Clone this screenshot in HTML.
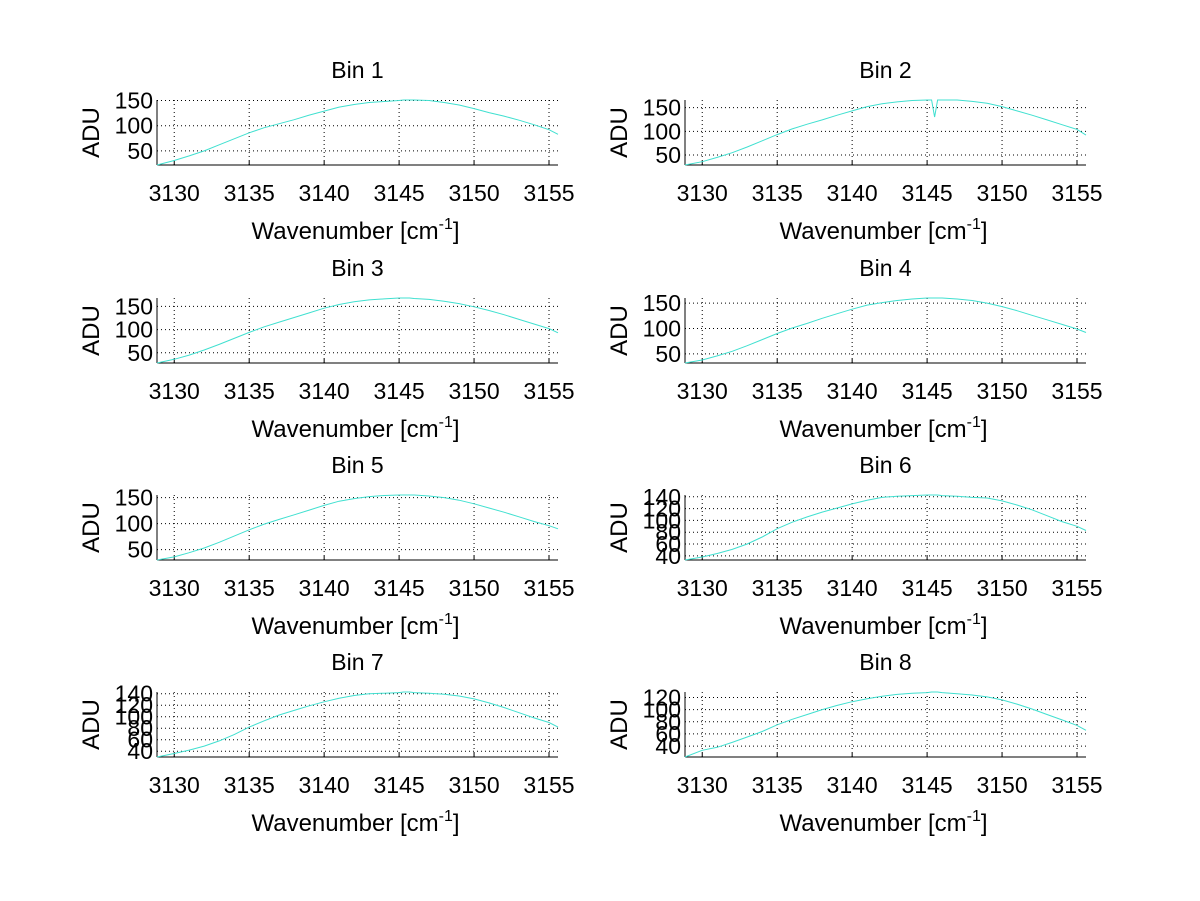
<!DOCTYPE html>
<html><head><meta charset="utf-8"><style>
html,body{margin:0;padding:0;background:#fff}
svg{display:block}
text{font-family:"Liberation Sans",Arial,sans-serif;fill:#000}
</style></head><body>
<svg id="fig" width="1200" height="901" viewBox="0 0 1200 901" xmlns="http://www.w3.org/2000/svg">
<rect width="1200" height="901" fill="#fff"/>
</svg>
<script>
const wavenumbers = [3128.85,3130,3131,3132,3133,3134,3135,3136,3137,3138,3139,3140,3141,3142,3143,3144,3145,3145.3,3145.5,3145.7,3146,3147,3148,3149,3150,3151,3152,3153,3154,3155,3155.6];
const bin1 = [22,31,40,50,62,74,86,96,104,112,121,129,137,142,146,148,150,151,151,151,151,150,146,141,134,126,119,111,102,92,83];
const bin2 = [29,36,45,55,67,80,93,105,115,124,134,143,152,158,162,165,166,166,130,166,166,166,163,159,152,143,134,124,114,104,92];
const bin3 = [28,36,45,56,68,81,94,106,116,126,136,146,154,160,164,166,168,168,168,168,167,165,161,156,149,141,132,122,112,102,93];
const bin4 = [32,38,46,55,66,78,90,101,110,120,129,138,146,151,155,158,160,160,160,160,160,158,155,150,143,135,126,117,108,99,92];
const bin5 = [30,36,44,53,64,76,88,99,108,117,126,135,143,148,152,154,155,155,155,155,155,153,150,145,138,130,122,113,104,96,90];
const bin6 = [33,38,44,51,60,72,86,97,106,114,121,128,134,139,141,142,143,143,143,143,142,141,139,138,133,126,118,108,98,90,83];
const bin7 = [30,36,42,49,58,69,82,93,103,111,119,126,132,137,140,141,142,143,143,143,142,141,139,136,131,124,116,107,98,90,82];
const bin8 = [22,33,38,46,55,64,75,84,92,100,107,113,118,122,125,127,128,129,129,129,128,126,124,121,116,109,101,92,83,74,66];
const binTitles = ["Bin 1","Bin 2","Bin 3","Bin 4","Bin 5","Bin 6","Bin 7","Bin 8"];
const xTicks = [3130,3135,3140,3145,3150,3155];
const yTicks1 = [50,100,150];
const yTicks2 = [40,60,80,100,120,140];
const yTicks3 = [40,60,80,100,120];

const series=[bin1,bin2,bin3,bin4,bin5,bin6,bin7,bin8];
const yTickSets=[yTicks1,yTicks1,yTicks1,yTicks1,yTicks1,yTicks2,yTicks2,yTicks3];
const NS="http://www.w3.org/2000/svg";
const svg=document.getElementById('fig');
function mk(tag,attrs,parent){const e=document.createElementNS(NS,tag);for(const k in attrs)e.setAttribute(k,attrs[k]);(parent||svg).appendChild(e);return e;}
const colL=[157,685], W=401, H=65, rowTop=[100,298,495,692];
const xMin=wavenumbers[0], xMax=wavenumbers[wavenumbers.length-1];
series.forEach((data,i)=>{
  const L=colL[i%2], T=rowTop[Math.floor(i/2)];
  const yMin=Math.min(...data), yMax=Math.max(...data);
  const sx=v=>L+(v-xMin)/(xMax-xMin)*W;
  const sy=v=>T+H-(v-yMin)/(yMax-yMin)*H;
  const g=mk('g',{});
  
  
  xTicks.forEach(t=>{
    const x=sx(t);
    const gl=mk('line',{x1:x,x2:x,y1:T,y2:T+H,stroke:'#000','stroke-width':1,'stroke-dasharray':'1,3'},g);
    
    
    mk('line',{x1:x,x2:x,y1:T+H,y2:T+H-4,stroke:'#000'},g);
    const tl=mk('text',{x:x,y:T+101,'font-size':23,'text-anchor':'middle'},g);
    tl.textContent=t;
    
    
  });
  yTickSets[i].forEach(t=>{
    const y=sy(t);
    const gl=mk('line',{x1:L,x2:L+W,y1:y,y2:y,stroke:'#000','stroke-width':1,'stroke-dasharray':'1,3'},g);
    
    
    const tl=mk('text',{x:L-4,y:y+8,'font-size':23,'text-anchor':'end'},g);
    tl.textContent=t;
    
    
  });
  mk('line',{x1:L,x2:L,y1:T,y2:T+H,stroke:'#000'},g);
  mk('line',{x1:L,x2:L+W,y1:T+H,y2:T+H,stroke:'#000'},g);
  const pts=data.map((v,k)=>sx(wavenumbers[k]).toFixed(1)+','+sy(v).toFixed(1)).join(' ');
  const pl=mk('polyline',{points:pts,fill:'none',stroke:'#40e0d0','stroke-width':1},g);
  
  
  const tt=mk('text',{x:L+W/2,y:T-22,'font-size':23,'text-anchor':'middle'},g);
  tt.textContent=binTitles[i];
  
  
  const xl=mk('text',{x:L+W/2-2,y:T+139,'font-size':24,'text-anchor':'middle'},g);
  xl.innerHTML='Wavenumber [cm<tspan dy="-10" font-size="16">-1</tspan><tspan dy="10">]</tspan>';
  
  
  const yl=mk('text',{x:0,y:0,'font-size':24,'text-anchor':'middle',transform:'translate('+(L-58)+','+(T+H/2)+') rotate(-90)'},g);
  yl.textContent='ADU';
  
  
});
</script>
</body></html>
